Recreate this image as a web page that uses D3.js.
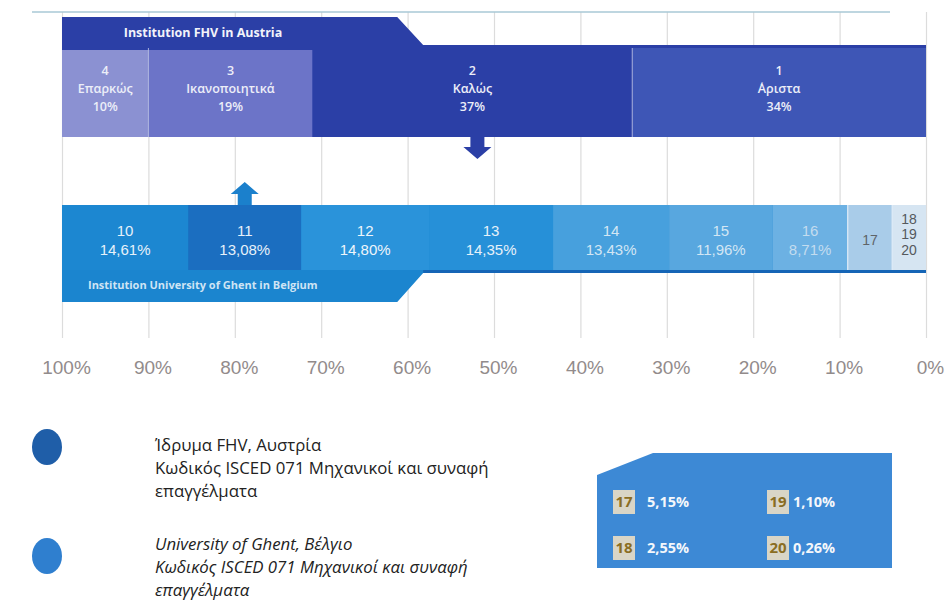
<!DOCTYPE html>
<html>
<head>
<meta charset="utf-8">
<script src="https://cdn.jsdelivr.net/npm/d3@7"></script>
<style>
  body { margin: 0; background: #fff; }
  svg { display: block; }
</style>
</head>
<body>
<div id="chart"></div>
<script>
// FHV (Austria) grades, from left (100%) to right (0%)
const fhvCodes = ['4', '3', '2', '1'];
const fhvNames = ['Επαρκώς', 'Ικανοποιητικά', 'Καλώς', '΄Αριστα'];
const fhvValues = [10, 19, 37, 34];

// Ghent (Belgium) grades
const ghentCodes = ['10', '11', '12', '13', '14', '15', '16', '17', '18', '19', '20'];
const ghentValues = [14.61, 13.08, 14.80, 14.35, 13.43, 11.96, 8.71, 5.15, 2.55, 1.10, 0.26];
const ghentLabels = ['14,61%', '13,08%', '14,80%', '14,35%', '13,43%', '11,96%', '8,71%', '5,15%', '2,55%', '1,10%', '0,26%'];
const mergedCodes = ['18', '19', '20'];   // drawn as one cell
const codeOnly = ['17'];                  // cell without percentage

const axisTicks = [100, 90, 80, 70, 60, 50, 40, 30, 20, 10, 0];

const legendFhv = ['Ίδρυμα FHV, Αυστρία', 'Κωδικός ISCED 071 Μηχανικοί και συναφή', 'επαγγέλματα'];
const legendGhent = ['University of Ghent, Βέλγιο', 'Κωδικός ISCED 071 Μηχανικοί και συναφή', 'επαγγέλματα'];
const boxCodes = ['17', '18', '19', '20'];

const width = 946, height = 609;

const svg = d3.select('#chart').append('svg')
    .attr('width', width)
    .attr('height', height);

// percent scale, 100% on the left
const x = d3.scaleLinear().domain([100, 0]).range([62, 926]);

// grid + axis
const gridTop = 12, gridBottom = 338;
const axis = d3.axisBottom(x)
    .tickValues(axisTicks)
    .tickSize(-(gridBottom - gridTop))
    .tickFormat(d => d + '%');

const ax = svg.append('g')
    .attr('transform', 'translate(0,' + gridBottom + ')')
    .call(axis);
ax.select('.domain').remove();
ax.selectAll('.tick line').attr('stroke', '#dcdcdc').attr('stroke-width', 1.2);
ax.selectAll('.tick text')
    .attr('x', 4)
    .attr('y', 29)
    .attr('dy', '0.35em')
    .attr('fill', '#928b8b')
    .style('font-family', '"Liberation Sans", Arial, sans-serif')
    .style('font-size', '19px');

svg.append('line')
    .attr('x1', 32).attr('x2', 890)
    .attr('y1', gridTop).attr('y2', gridTop)
    .attr('stroke', '#a8c8d6').attr('stroke-width', 1.5);

// ---------- FHV bar ----------
const fhvColors = ['#8b91d2', '#6c74c8', '#2b3fa6', '#3e56b6'];
const fhvDark = '#2b3fa6';
const slantA = 61.2, slantB = 58.2;  // where the banner steps down

const topY0 = 17, topY1 = 45, topY2 = 137;
svg.append('path')
    .attr('d', d3.line()([
        [x(100), topY0], [x(slantA), topY0], [x(slantB), topY1],
        [x(0), topY1], [x(0), topY2], [x(100), topY2]
    ]) + 'Z')
    .attr('fill', fhvDark);

const fhvEnd = d3.cumsum(fhvValues);
const fhvStart = fhvEnd.map((d, i) => d - fhvValues[i]);

const fhvG = svg.append('g');
fhvG.selectAll('rect')
    .data(fhvValues)
    .enter().append('rect')
    .attr('x', (d, i) => x(100 - fhvStart[i]))
    .attr('y', (d, i) => i < 2 ? 50 : 48)
    .attr('width', (d, i) => x(100 - fhvEnd[i]) - x(100 - fhvStart[i]))
    .attr('height', (d, i) => topY2 - (i < 2 ? 50 : 48))
    .attr('fill', (d, i) => fhvColors[i]);

// thin separators
fhvG.selectAll('line.sep')
    .data(fhvEnd.slice(0, -1))
    .enter().append('line')
    .attr('x1', d => x(100 - d)).attr('x2', d => x(100 - d))
    .attr('y1', 48).attr('y2', topY2)
    .attr('stroke', '#c8cdea').attr('stroke-width', 1)
    .attr('opacity', (d, i) => i === 1 ? 0 : 0.8);

const fhvText = fhvG.selectAll('text.lbl')
    .data(fhvValues)
    .enter().append('text')
    .attr('class', 'lbl')
    .attr('text-anchor', 'middle')
    .attr('fill', '#eceef8')
    .style('font-family', '"Open Sans", sans-serif')
    .style('font-size', '12.5px')
    .style('font-weight', 600);
fhvText.each(function (d, i) {
    const cx = x(100 - (fhvStart[i] + fhvEnd[i]) / 2);
    const t = d3.select(this);
    [fhvCodes[i], fhvNames[i], d + '%'].forEach((s, k) => {
        t.append('tspan').attr('x', cx).attr('y', 71 + k * 18).attr('dy', '0.35em').text(s);
    });
});

svg.append('text')
    .attr('x', 203).attr('y', 33).attr('dy', '0.35em')
    .attr('text-anchor', 'middle')
    .attr('fill', '#f2f3fa')
    .style('font-family', '"Open Sans", sans-serif')
    .style('font-size', '12.5px')
    .style('font-weight', 700)
    .text('Institution FHV in Austria');

// block arrow, dir = 1 points down, -1 points up
function arrow(cx, yBase, dir, color) {
    const p = d3.path();
    p.moveTo(cx - 7, yBase);
    p.lineTo(cx + 7, yBase);
    p.lineTo(cx + 7, yBase + dir * 11);
    p.lineTo(cx + 14, yBase + dir * 11);
    p.lineTo(cx, yBase + dir * 23);
    p.lineTo(cx - 14, yBase + dir * 11);
    p.lineTo(cx - 7, yBase + dir * 11);
    p.closePath();
    svg.append('path').attr('d', p.toString()).attr('fill', color);
}
arrow(x(100 - (fhvStart[2] + fhvEnd[2]) / 2) + 5, topY2 - 1, 1, fhvDark);

// ---------- Ghent bar ----------
const ghEnd = d3.cumsum(ghentValues);
const ghStart = ghEnd.map((d, i) => d - ghentValues[i]);

const botY0 = 205, botY1 = 270, botY2 = 302;
const ghentDark = '#1b85cf';
svg.append('path')
    .attr('d', d3.line()([
        [x(100), botY0], [x(0), botY0], [x(0), botY1 + 3],
        [x(slantB), botY1 + 3], [x(slantA), botY2], [x(100), botY2]
    ]) + 'Z')
    .attr('fill', ghentDark);
svg.append('line')
    .attr('x1', x(slantB)).attr('x2', x(0))
    .attr('y1', botY1 + 1.5).attr('y2', botY1 + 1.5)
    .attr('stroke', '#1565b6').attr('stroke-width', 3);

// build cells: single codes, then the merged tail
const cells = [];
ghentCodes.forEach((c, i) => {
    if (mergedCodes.includes(c)) return;
    cells.push({ codes: [c], start: ghStart[i], end: ghEnd[i], label: ghentLabels[i] });
});
const mIdx = mergedCodes.map(c => ghentCodes.indexOf(c));
cells.push({
    codes: mergedCodes,
    start: d3.min(mIdx, i => ghStart[i]),
    end: d3.max(mIdx, i => ghEnd[i]),
    label: null
});

const ghColors = ['#1c87d1', '#1b6ec0', '#2a93da', '#2690d8', '#47a0dd', '#58a7df', '#6cb1e3', '#a9cce9', '#d6e5f2'];
const ghTextColors = ['#e6f1fa', '#e6f1fa', '#eef5fb', '#e6f1fa', '#d3e6f4', '#d3e6f4', '#c3dcef', '#5f6468', '#55595d'];

const ghG = svg.append('g');
ghG.selectAll('rect')
    .data(cells)
    .enter().append('rect')
    .attr('x', d => x(100 - d.start))
    .attr('y', botY0)
    .attr('width', d => x(100 - d.end) - x(100 - d.start))
    .attr('height', botY1 - botY0)
    .attr('fill', (d, i) => ghColors[i]);

ghG.selectAll('line.sep')
    .data(cells.slice(6, -1))
    .enter().append('line')
    .attr('x1', d => x(100 - d.end)).attr('x2', d => x(100 - d.end))
    .attr('y1', botY0).attr('y2', botY1)
    .attr('stroke', '#e4eef8').attr('stroke-width', 1.2);

ghG.selectAll('text')
    .data(cells)
    .enter().append('text')
    .attr('text-anchor', 'middle')
    .attr('fill', (d, i) => ghTextColors[i])
    .style('font-family', '"Liberation Sans", Arial, sans-serif')
    .style('font-size', (d, i) => i >= 7 ? '14px' : '15px')
    .each(function (d) {
        const cx = x(100 - (d.start + d.end) / 2);
        const t = d3.select(this);
        let lines;
        if (d.codes.length > 1) lines = d.codes;
        else if (codeOnly.includes(d.codes[0])) lines = d.codes;
        else lines = [d.codes[0], d.label];
        const y0 = lines.length === 1 ? 240 : (lines.length === 2 ? 231 : 219);
        const step = lines.length === 2 ? 19 : 15.5;
        lines.forEach((s, k) => {
            t.append('tspan').attr('x', cx).attr('y', y0 + k * step).attr('dy', '0.35em').text(s);
        });
    });

svg.append('text')
    .attr('x', 88).attr('y', 285).attr('dy', '0.35em')
    .attr('fill', '#cfe4f4')
    .style('font-family', '"Open Sans", sans-serif')
    .style('font-size', '11px')
    .style('font-weight', 700)
    .text('Institution University of Ghent in Belgium');

const i11 = ghentCodes.indexOf('11');
arrow(x(100 - (ghStart[i11] + ghEnd[i11]) / 2), botY0, -1, '#1b80cc');

// ---------- legend ----------
const legend = [
    { lines: legendFhv, color: '#1f5ea8', cy: 447, ty: 445, italic: false },
    { lines: legendGhent, color: '#2f7fcf', cy: 556, ty: 544, italic: true }
];
const lg = svg.append('g');
legend.forEach(l => {
    lg.append('ellipse')
        .attr('cx', 47).attr('cy', l.cy)
        .attr('rx', 15).attr('ry', 18)
        .attr('fill', l.color);
    const t = lg.append('text')
        .attr('fill', '#222')
        .style('font-family', '"Open Sans", sans-serif')
        .style('font-size', '16.8px')
        .style('font-style', l.italic ? 'italic' : 'normal');
    l.lines.forEach((s, k) => {
        t.append('tspan').attr('x', 155).attr('y', l.ty + k * 23).attr('dy', '0.35em').text(s);
    });
});

// ---------- box with small grades ----------
const box = svg.append('g');
box.append('path')
    .attr('d', d3.line()([[653, 453], [892, 453], [892, 568], [597, 568], [597, 475]]) + 'Z')
    .attr('fill', '#3d89d5');

const boxItems = boxCodes.map(c => {
    const i = ghentCodes.indexOf(c);
    return { code: c, label: ghentLabels[i] };
});
const bx = [613, 767], by = [502, 548];
boxItems.forEach((d, i) => {
    const col = Math.floor(i / 2), row = i % 2;
    const gx = bx[col], gy = by[row];
    box.append('rect')
        .attr('x', gx).attr('y', gy - 12)
        .attr('width', 22).attr('height', 24)
        .attr('fill', '#d9d5c6');
    box.append('text')
        .attr('x', gx + 11).attr('y', gy).attr('dy', '0.35em')
        .attr('text-anchor', 'middle')
        .attr('fill', '#8a6d22')
        .style('font-family', '"Open Sans", sans-serif')
        .style('font-size', '15px').style('font-weight', 700)
        .text(d.code);
    box.append('text')
        .attr('x', gx + (col === 0 ? 34 : 26)).attr('y', gy).attr('dy', '0.35em')
        .attr('fill', '#f4f7fb')
        .style('font-family', '"Open Sans", sans-serif')
        .style('font-size', '14.5px').style('font-weight', 700)
        .text(d.label);
});
</script>
</body>
</html>
